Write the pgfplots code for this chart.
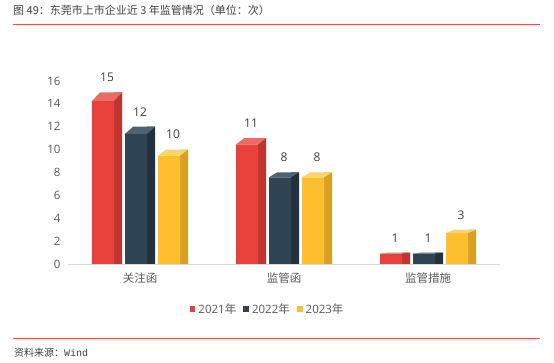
\documentclass[border=0pt]{standalone}
\usepackage{fontspec}
\setmainfont{Open Sans}
\newfontfamily\cjk{Noto Sans CJK SC}
\usepackage{pgfplots}
\usepackage{pgfplotstable}
\pgfplotsset{compat=1.18}

\definecolor{redfront}{HTML}{E8403A}
\definecolor{redside}{HTML}{BF342E}
\definecolor{redtop}{HTML}{EF6B61}
\definecolor{navyfront}{HTML}{2E4353}
\definecolor{navyside}{HTML}{22313D}
\definecolor{navytop}{HTML}{4D6373}
\definecolor{yelfront}{HTML}{FDBF2D}
\definecolor{yelside}{HTML}{D8A026}
\definecolor{yeltop}{HTML}{FFD462}
\definecolor{tickgray}{HTML}{595959}
\definecolor{labgray}{HTML}{404040}
\definecolor{axisgray}{HTML}{D9D9D9}
\definecolor{rule}{HTML}{DA5A58}

% values a,b,c (2021, 2022, 2023); da,db,dc = visible depth of the top face
\pgfplotstableread{
cat a  b  c  da   db   dc
0   15 12 10 0.75 0.62 0.52
1   11 8  8  0.55 0.42 0.42
2   1  1  3  0.10 0.10 0.30
}\data

\pgfdeclareplotmark{topface}{%
  \pgfmathsetmacro\hy{\dy*11.4375}%
  \pgfpathmoveto{\pgfpoint{\cx pt-15pt}{-\hy pt}}%
  \pgfpathlineto{\pgfpoint{\cx pt+7pt}{-\hy pt}}%
  \pgfpathlineto{\pgfpoint{\cx pt+15pt}{0pt}}%
  \pgfpathlineto{\pgfpoint{\cx pt-7pt}{0pt}}%
  \pgfpathclose\pgfusepathqfill}

\pgfplotsset{
  sqlegend/.style={legend image code/.code={\fill[##1] (0pt,-2.9pt) rectangle (5.8pt,2.9pt);}},
  sideface/.style={ybar, bar width=8pt, draw=none, forget plot},
  frontface/.style={ybar, bar width=22pt, draw=none, sqlegend},
  topplot/.style 2 args={scatter, only marks, mark=topface, forget plot,
    color=#1, mark options={fill=#1, draw=none},
    scatter/@pre marker code/.code={\pgfscope\pgfsetfillcolor{#1}},
    scatter/@post marker code/.code={\endpgfscope},
    nodes near coords,
    every node near coord/.append style={anchor=south, xshift=#2pt, yshift=7pt,
      font=\fontsize{12}{12}\selectfont, text=labgray}},
}

\begin{document}
\begin{tikzpicture}
\path (0pt,0pt) rectangle (554pt,363pt);
% title and rules
\node[anchor=west, inner sep=0pt, text=labgray] at (13pt,352.5pt)
  {\cjk\fontsize{11}{11}\selectfont 图 49：东莞市上市企业近 3 年监管情况（单位：次）};
\draw[rule, line width=0.9pt] (13pt,338.7pt) -- (540pt,338.7pt);
\draw[rule, line width=0.9pt] (13pt,24.7pt) -- (540pt,24.7pt);
\node[anchor=west, inner sep=0pt, text=labgray] at (14pt,10pt)
  {\fontsize{10}{10}\selectfont{\cjk 资料来源：}\fontspec{Liberation Mono}Wind};

\begin{axis}[
  at={(68pt,99pt)}, anchor=south west,
  scale only axis, width=432pt, height=183pt,
  xmin=-0.5, xmax=2.5, ymin=0, ymax=16,
  clip=false,
  axis x line=bottom, axis y line=left,
  x axis line style={draw=axisgray, -},
  y axis line style={draw=none},
  major tick length=0pt,
  xtick={0,1,2},
  xticklabels={关注函,监管函,监管措施},
  xticklabel style={font=\cjk\fontsize{11.5}{12}\selectfont, text=tickgray, yshift=-5pt},
  ytick={0,2,...,16},
  yticklabel style={font=\fontsize{11.5}{12}\selectfont, text=tickgray, xshift=-4pt},
  /pgf/number format/assume math mode=true,
  legend style={at={(0.462,-0.246)}, anchor=center, draw=none, fill=none,
    legend columns=-1, font=\fontsize{11.5}{12}\selectfont, text=tickgray,
    /tikz/every even column/.append style={column sep=5pt},
    /tikz/every odd column/.append style={column sep=1pt}},
]
% 2021
\addplot[sideface, fill=redside, bar shift=-22pt] table[x=cat, y=a] {\data};
\addplot[frontface, fill=redfront, bar shift=-37pt] table[x=cat, y expr=\thisrow{a}-\thisrow{da}] {\data};
\addlegendentry{2021{\cjk 年}}
\addplot[topplot={redtop}{-33}, point meta=\thisrow{a},
  visualization depends on={\thisrow{da} \as \dy},
  visualization depends on={-33 \as \cx}] table[x=cat, y=a] {\data};
% 2022
\addplot[sideface, fill=navyside, bar shift=11pt] table[x=cat, y=b] {\data};
\addplot[frontface, fill=navyfront, bar shift=-4pt] table[x=cat, y expr=\thisrow{b}-\thisrow{db}] {\data};
\addlegendentry{2022{\cjk 年}}
\addplot[topplot={navytop}{0}, point meta=\thisrow{b},
  visualization depends on={\thisrow{db} \as \dy},
  visualization depends on={0 \as \cx}] table[x=cat, y=b] {\data};
% 2023
\addplot[sideface, fill=yelside, bar shift=44pt] table[x=cat, y=c] {\data};
\addplot[frontface, fill=yelfront, bar shift=29pt] table[x=cat, y expr=\thisrow{c}-\thisrow{dc}] {\data};
\addlegendentry{2023{\cjk 年}}
\addplot[topplot={yeltop}{33}, point meta=\thisrow{c},
  visualization depends on={\thisrow{dc} \as \dy},
  visualization depends on={33 \as \cx}] table[x=cat, y=c] {\data};
\end{axis}
\end{tikzpicture}
\end{document}
